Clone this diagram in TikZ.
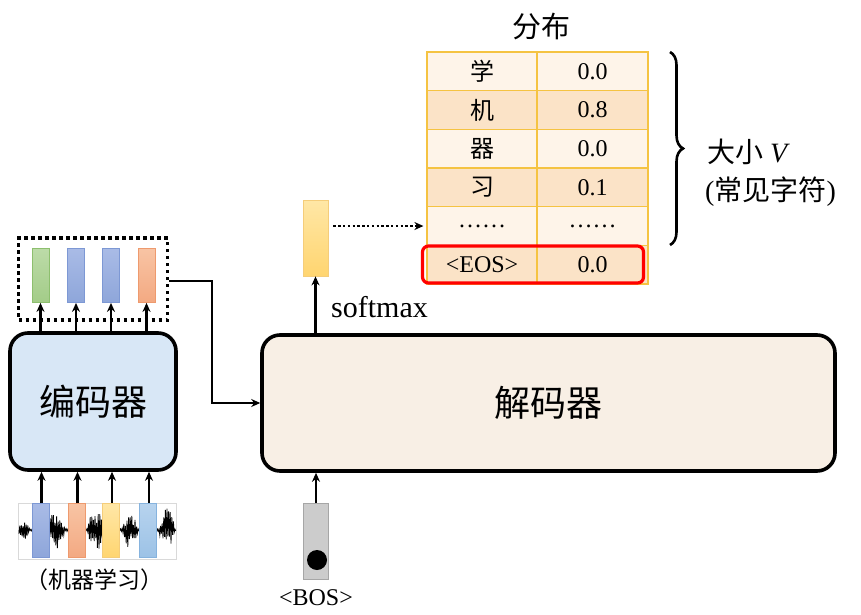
\documentclass[tikz,border=0pt]{standalone}
\usepackage{fontspec}
\setmainfont{Liberation Serif}
\newfontfamily\cjk{Noto Sans CJK SC}
\usetikzlibrary{arrows.meta,decorations.pathreplacing,calc}
\definecolor{encfill}{HTML}{D8E7F6}
\definecolor{decfill}{HTML}{F8EFE5}
\definecolor{tblborder}{HTML}{F5C342}
\definecolor{rowlt}{HTML}{FEF4E9}
\definecolor{rowdk}{HTML}{FBE3C7}
\definecolor{gtop}{HTML}{BCDBA8}\definecolor{gbot}{HTML}{A3CC88}\definecolor{gbrd}{HTML}{8DBF6E}
\definecolor{btop}{HTML}{A9BBE6}\definecolor{bbot}{HTML}{8EA6DA}\definecolor{bbrd}{HTML}{7D98D4}
\definecolor{otop}{HTML}{F8C4A4}\definecolor{obot}{HTML}{F3A982}\definecolor{obrd}{HTML}{EE9A6E}
\definecolor{ytop}{HTML}{FFE7A6}\definecolor{ybot}{HTML}{FFD570}\definecolor{ybrd}{HTML}{F5CD7A}
\definecolor{ltop}{HTML}{B7D3EE}\definecolor{lbot}{HTML}{9CC2E6}\definecolor{lbrd}{HTML}{86B3DE}
\begin{document}
\begin{tikzpicture}[x=1pt,y=-1pt,
  arr/.style={line width=2.4pt,-{Stealth[length=9pt,width=8pt]}},
  dotarr/.style={line width=2.4pt,dash pattern=on 2.4pt off 2.4pt,-{Stealth[length=9pt,width=8pt]}},
  block/.style={draw=black,line width=3.6pt,rounded corners=18pt,inner sep=0pt},
  vec/.style={inner sep=0pt,minimum width=17pt,minimum height=54pt,line width=0.8pt},
  vgreen/.style={vec,draw=gbrd,top color=gtop,bottom color=gbot},
  vblue/.style={vec,draw=bbrd,top color=btop,bottom color=bbot},
  vorange/.style={vec,draw=obrd,top color=otop,bottom color=obot},
  vyellow/.style={vec,draw=ybrd,top color=ytop,bottom color=ybot},
  vlblue/.style={vec,draw=lbrd,top color=ltop,bottom color=lbot},
  cell/.style={draw=tblborder,line width=1.2pt,inner sep=0pt,minimum height=38.67pt,font=\fontsize{24}{24}\selectfont},
  lbl/.style={inner sep=0pt}]
\useasboundingbox (0,0) rectangle (861,615);

% ---------------- encoder side ----------------
\node[block,fill=encfill,minimum width=166pt,minimum height=137pt,font=\cjk\fontsize{36}{36}\selectfont] (enc) at (93,401.5) {编码器};

% waveform input
\node[draw=black!15,line width=0.8pt,minimum width=158pt,minimum height=56pt,inner sep=0pt] (wave) at (97,531) {};
\pgfmathsetseed{11}
\begin{scope}
\clip (18,504) rectangle (176,558);
\draw[line width=0.8pt] (19,530)
  \foreach \i in {0,...,196} {
    -- ({19+\i*0.8},{530+(1-2*mod(\i,2))*(0.3+0.7*rnd)*(1.5
        +8*max(0,1-((19+\i*0.8-24)/6)*((19+\i*0.8-24)/6))
        +20*max(0,1-((19+\i*0.8-56)/9)*((19+\i*0.8-56)/9))
        +20*max(0,1-((19+\i*0.8-96)/9)*((19+\i*0.8-96)/9))
        +18*max(0,1-((19+\i*0.8-130)/8)*((19+\i*0.8-130)/8))
        +20*max(0,1-((19+\i*0.8-167)/8)*((19+\i*0.8-167)/8)))})
  };
\end{scope}
\node[vblue]   (x1) at (40.5,530.5) {};
\node[vorange] (x2) at (76.5,530.5) {};
\node[vyellow] (x3) at (111,530.5) {};
\node[vlblue]  (x4) at (148,530.5) {};
\node[lbl,font=\cjk\fontsize{23}{23}\selectfont] (inlbl) at (94,580) {（机器学习）};

\foreach \k in {1,...,4} {
  \draw[arr] ([xshift=1pt]x\k.north) -- ([xshift=1pt]x\k.north |- enc.south);
}

% encoder outputs
\node[vgreen]  (h1) at (40.5,275.5) {};
\node[vblue]   (h2) at (76,275.5) {};
\node[vblue]   (h3) at (111,275.5) {};
\node[vorange] (h4) at (146.5,275.5) {};
\node[draw=black,line width=3.5pt,dash pattern=on 3.5pt off 3.5pt,minimum width=149pt,minimum height=82pt,inner sep=0pt] (hbox) at (93,279) {};
\foreach \k in {1,...,4} {
  \draw[arr] (h\k.south |- enc.north) -- (h\k.south);
}

% ---------------- decoder side ----------------
\node[block,fill=decfill,minimum width=573pt,minimum height=136pt,font=\cjk\fontsize{36}{36}\selectfont] (dec) at (548.5,403) {解码器};

\draw[arr] ([yshift=-2pt]hbox.east) -- ++(43,0) |- (dec.west);

% BOS input
\node[draw=black!35,fill=black!20,line width=0.8pt,minimum width=25pt,minimum height=76pt,inner sep=0pt] (bos) at (316,541.5) {};
\node[circle,fill=black,minimum size=20pt,inner sep=0pt] (bosdot) at (317,560) {};
\node[lbl,font=\fontsize{24}{24}\selectfont] (boslbl) at (316,598) {<BOS>};
\draw[arr] (bos.north) -- (bos.north |- dec.south);

% softmax output vector
\node[draw=ybrd,top color=ytop,bottom color=ybot,line width=0.8pt,minimum width=25pt,minimum height=76pt,inner sep=0pt] (yv) at (315.5,238) {};
\draw[arr] (yv.south |- dec.north) -- (yv.south);
\node[lbl,font=\fontsize{30}{30}\selectfont,anchor=west] (smx) at (331,307) {softmax};

% ---------------- distribution table ----------------
\node[lbl,font=\cjk\fontsize{29}{29}\selectfont] (title) at (541,27) {分布};
\foreach \i/\a/\b/\c in {1/{\cjk 学}/0.0/rowlt, 2/{\cjk 机}/0.8/rowdk, 3/{\cjk 器}/0.0/rowlt, 4/{\cjk 习}/0.1/rowdk, 5/……/……/rowlt, 6/<EOS>/0.0/rowdk} {
  \node[cell,fill=\c,minimum width=110pt] (ra\i) at (482,{52+38.67*(\i-0.5)}) {\a};
  \node[cell,fill=\c,minimum width=111pt] (rb\i) at (592.5,{52+38.67*(\i-0.5)}) {\b};
}
\node[draw=red,line width=3.2pt,rounded corners=6pt,minimum width=221pt,minimum height=37pt,inner sep=0pt] (eos) at (533,264.5) {};

\draw[dotarr] ([xshift=5pt]yv.east |- ra5.west) -- ([xshift=-3pt]ra5.west);

% brace
\coordinate (brtop) at (670,52);
\coordinate (brbot) at (670,245);
\draw[line width=2.6pt,decorate,decoration={brace,amplitude=13pt}] (brtop) -- (brbot);
\node[lbl,font=\fontsize{28}{28}\selectfont,anchor=west] (size) at (707,152) {{\cjk 大小} \textit{V}};
\node[lbl,font=\fontsize{28}{28}\selectfont,anchor=west] (common) at (705,192) {({\cjk 常见字符})};
\end{tikzpicture}
\end{document}
